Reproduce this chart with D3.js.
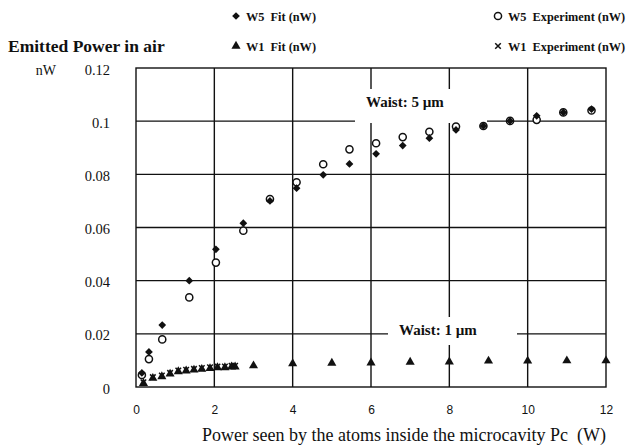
<!DOCTYPE html>
<html><head><meta charset="utf-8">
<script src="https://cdn.jsdelivr.net/npm/d3@7/dist/d3.min.js"></script>
<style>body{margin:0;background:#fff}svg{display:block}</style>
</head><body>
<script>
// ---- data ----
const w5X = [0.15,0.33,0.67,1.36,2.04,2.74,3.42,4.10,4.78,5.45,6.13,6.81,7.49,8.17,8.87,9.55,10.23,10.91,11.63];
const w5Fit = [0.0053,0.0132,0.0233,0.040,0.0518,0.0616,0.0700,0.0748,0.0798,0.0839,0.0877,0.0908,0.0936,0.0967,0.0982,0.1001,0.1020,0.1033,0.1045];
const w5Exp = [0.0045,0.0105,0.0179,0.0337,0.0468,0.0588,0.0707,0.0770,0.0838,0.0894,0.0917,0.0940,0.0960,0.0980,0.0982,0.1001,0.1005,0.1033,0.1040];
const w1X = [0.19,0.43,0.66,0.87,1.08,1.28,1.48,1.68,1.89,2.08,2.27,2.44,2.53,3,4,5,6,7,8,9,10,11,12];
const w1Fit = [0.0014,0.0033,0.0039,0.0049,0.0058,0.0061,0.0064,0.0067,0.0070,0.0073,0.0073,0.0076,0.0076,0.0080,0.0088,0.0090,0.0091,0.0094,0.0095,0.0098,0.0098,0.0099,0.0099];
const w1ExpX = [0.19,0.43,0.66,0.87,1.08,1.28,1.48,1.68,1.89,2.08,2.27,2.44,2.53];
const w1Exp = [0.0018,0.0037,0.0043,0.0053,0.0062,0.0065,0.0068,0.0071,0.0074,0.0077,0.0077,0.0080,0.0080];
const xTicks = [0,2,4,6,8,10,12];
const yTicks = [0,0.02,0.04,0.06,0.08,0.1,0.12];
const legendItems = [
  {label:"W5  Fit (nW)", sym:"diamond", col:0, row:0},
  {label:"W5  Experiment (nW)", sym:"circle", col:1, row:0},
  {label:"W1  Fit (nW)", sym:"triangle", col:0, row:1},
  {label:"W1  Experiment (nW)", sym:"cross", col:1, row:1}
];

const W = 630, H = 446;
const svg = d3.select("body").append("svg").attr("width", W).attr("height", H);
const x = d3.scaleLinear().domain([0,12]).range([136,606]);
const y = d3.scaleLinear().domain([0,0.12]).range([387,68]);
const serif = "'Liberation Serif','Times New Roman',serif";
const sans = "'Liberation Sans',Arial,sans-serif";
const ink = "#111";

// gridlines
const grid = svg.append("g").attr("stroke", ink).attr("stroke-width", 1.4);
grid.selectAll("line.v").data(xTicks.slice(1,-1)).join("line")
  .attr("x1", d=>x(d)).attr("x2", d=>x(d)).attr("y1", y(0)).attr("y2", y(0.12));
grid.selectAll("line.h").data(yTicks.slice(1,-1)).join("line")
  .attr("y1", d=>y(d)).attr("y2", d=>y(d)).attr("x1", x(0)).attr("x2", x(12));
svg.append("rect").attr("x", x(0)).attr("y", y(0.12)).attr("width", x(12)-x(0)).attr("height", y(0)-y(0.12))
  .attr("fill","none").attr("stroke", ink).attr("stroke-width", 1.4);

// annotation knock-outs
svg.append("rect").attr("x",355).attr("y",89).attr("width",132).attr("height",34).attr("fill","#fff");
svg.append("rect").attr("x",388).attr("y",317).attr("width",129).attr("height",28).attr("fill","#fff");
svg.append("text").attr("x",366).attr("y",107).attr("font-family",serif).attr("font-weight","bold")
  .attr("font-size",15).attr("fill",ink).text("Waist: 5 µm");
svg.append("text").attr("x",399).attr("y",335).attr("font-family",serif).attr("font-weight","bold")
  .attr("font-size",15).attr("fill",ink).text("Waist: 1 µm");

// axes
const yAxis = d3.axisLeft(y).tickValues(yTicks).tickSize(0).tickPadding(26)
  .tickFormat(d => d===0 ? "0" : String(+d.toFixed(2)));
const gy = svg.append("g").attr("transform", `translate(${x(0)},0)`).call(yAxis)
  .attr("font-family", serif).attr("font-size", 14.5);
gy.select(".domain").remove();
gy.selectAll("text").style("font-family", serif).style("font-size", "14.5px").attr("fill", ink).attr("dy","0.42em");

const xAxis = d3.axisBottom(x).tickValues(xTicks).tickSize(0).tickPadding(18);
const gx = svg.append("g").attr("transform", `translate(0,${y(0)})`).call(xAxis)
  .attr("font-family", sans).attr("font-size", 12);
gx.select(".domain").remove();
gx.selectAll("text").style("font-family", sans).style("font-size", "12px").attr("fill", ink);

svg.append("text").attr("x", 56).attr("y", 75).attr("text-anchor","end").attr("font-family", serif)
  .attr("font-size", 14).attr("fill", ink).text("nW");
svg.append("text").attr("x", 404).attr("y", 441).attr("text-anchor","middle").attr("font-family", serif)
  .attr("font-size", 18).attr("fill", ink).style("white-space","pre")
  .text("Power seen by the atoms inside the microcavity Pc  (W)");
svg.append("text").attr("x", 8).attr("y", 52).attr("font-family", serif).attr("font-weight","bold")
  .attr("font-size", 17.5).attr("fill", ink).text("Emitted Power in air");

// symbols
const shapes = {
  diamond: d3.symbol().type(d3.symbolSquare).size(30),
  triangle: d3.symbol().type(d3.symbolTriangle).size(36),
  cross: d3.symbol().type(d3.symbolX).size(22),
  circle: d3.symbol().type(d3.symbolCircle).size(40)
};
const rot = sym => sym==="diamond" ? " rotate(45)" : "";
function styleSym(sel, sym){
  if (sym==="circle") sel.attr("fill","#fff").attr("stroke",ink).attr("stroke-width",1.5);
  else if (sym==="cross") sel.attr("fill","none").attr("stroke",ink).attr("stroke-width",1.5);
  else sel.attr("fill",ink).attr("stroke","none");
}
function plot(xs, ys, sym){
  const data = xs.map((v,i)=>[v, ys[i]]);
  const g = svg.append("g");
  const s = g.selectAll("path").data(data).join("path")
    .attr("d", shapes[sym]())
    .attr("transform", d=>`translate(${x(d[0])},${y(d[1])})${rot(sym)}`);
  styleSym(s, sym);
}
plot(w1X, w1Fit, "triangle");
plot(w1ExpX, w1Exp, "cross");
plot(w5X, w5Exp, "circle");
plot(w5X, w5Fit, "diamond");

// legend
const colX = [236, 498], rowY = [16, 46];
const lg = svg.append("g");
legendItems.forEach(it => {
  const p = lg.append("path").attr("d", shapes[it.sym]())
    .attr("transform", `translate(${colX[it.col]},${rowY[it.row]})${rot(it.sym)}`);
  styleSym(p, it.sym);
  lg.append("text").attr("x", colX[it.col]+10).attr("y", rowY[it.row]+4.5)
    .attr("font-family", serif).attr("font-weight","bold").attr("font-size",12.3)
    .attr("fill", ink).style("white-space","pre").text(it.label);
});
</script>
</body></html>
